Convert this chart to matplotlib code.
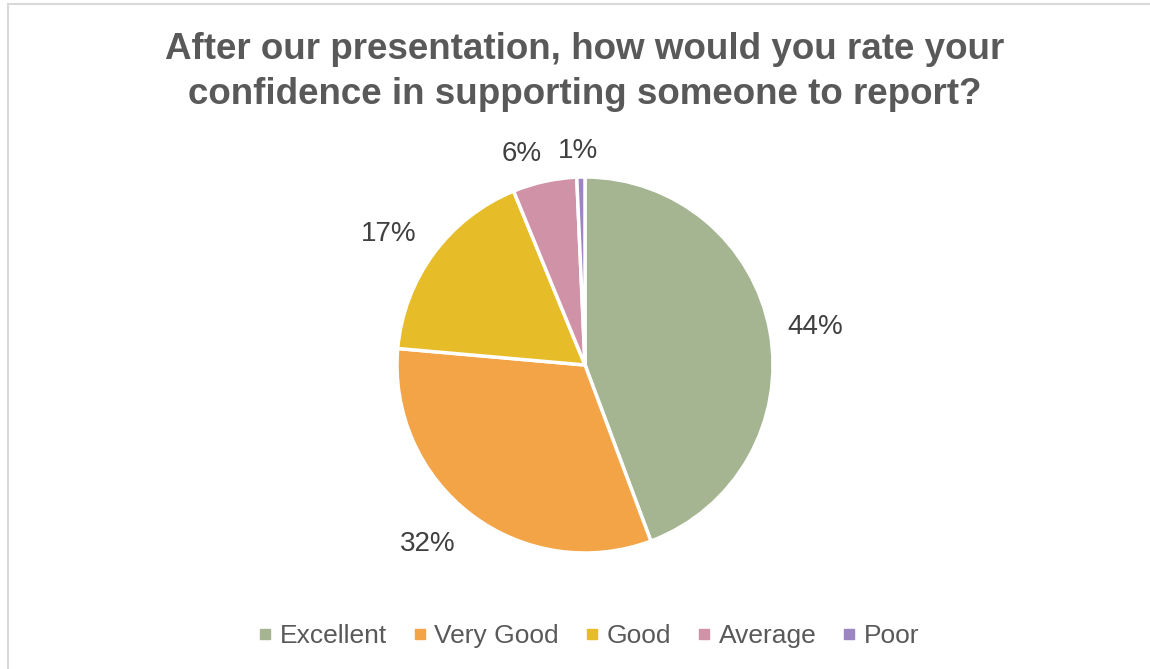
import numpy as np
import matplotlib.pyplot as plt
from matplotlib.patches import Rectangle
from matplotlib.lines import Line2D

# --- DATA ---
categories = ["Excellent", "Very Good", "Good", "Average", "Poor"]
shares = [44.3, 32.1, 17.4, 5.5, 0.7]
colors = ["#A5B592", "#F3A447", "#E7BC29", "#D092A7", "#9C85C0"]
title = "After our presentation, how would you rate your\nconfidence in supporting someone to report?"

# label placement tweaks (Excel "best fit" style)
label_dist = [1.24, 1.265, 1.255, 1.17, 1.14]
label_shift_deg = [-0.9, -4.1, 2.5, 4.2, 0.6]

plt.rcParams['font.family'] = ['Liberation Sans', 'DejaVu Sans']

W, H = 1150, 669
fig = plt.figure(figsize=(W / 100, H / 100), dpi=100)

# chart border (only left and top visible in reference)
fig.patches.append(Rectangle((8 / W, -0.1), 1.2, 1 - 4 / H + 0.1,
                             transform=fig.transFigure, fill=False,
                             edgecolor="#D9D9D9", linewidth=1.5))

# --- pie axes, sized in pixels ---
cx, cy, r = 585, 365, 188
ax = fig.add_axes([(cx - r) / W, 1 - (cy + r) / H, 2 * r / W, 2 * r / H])
wedges, texts, autotexts = ax.pie(
    shares, colors=colors, startangle=90, counterclock=False,
    autopct=lambda p: f"{p:.0f}%", pctdistance=1.24,
    wedgeprops=dict(edgecolor="white", linewidth=2.5),
    textprops=dict(color="#404040", fontsize=20))
for w, t, d, s in zip(wedges, autotexts, label_dist, label_shift_deg):
    ang = np.deg2rad((w.theta1 + w.theta2) / 2 + s)
    t.set_position((d * np.cos(ang), d * np.sin(ang)))
ax.set_xlim(-1, 1)
ax.set_ylim(-1, 1)
ax.set_aspect("equal")
ax.axis("off")

fig.text(cx / W, 1 - 72 / H, title, ha="center", va="center",
         fontsize=26.5, fontweight="bold", color="#595959", linespacing=1.37)

handles = [Line2D([], [], marker="s", linestyle="none", markersize=6.5,
                  markerfacecolor=c, markeredgecolor=c) for c in colors]
fig.legend(handles, categories, loc="center", bbox_to_anchor=(589 / W, 1 - 636 / H),
           ncol=5, frameon=False, fontsize=19, labelcolor="#595959",
           handletextpad=0.3, columnspacing=1.0, handlelength=0.5)

fig.savefig("out.png", dpi=100, facecolor="white")
